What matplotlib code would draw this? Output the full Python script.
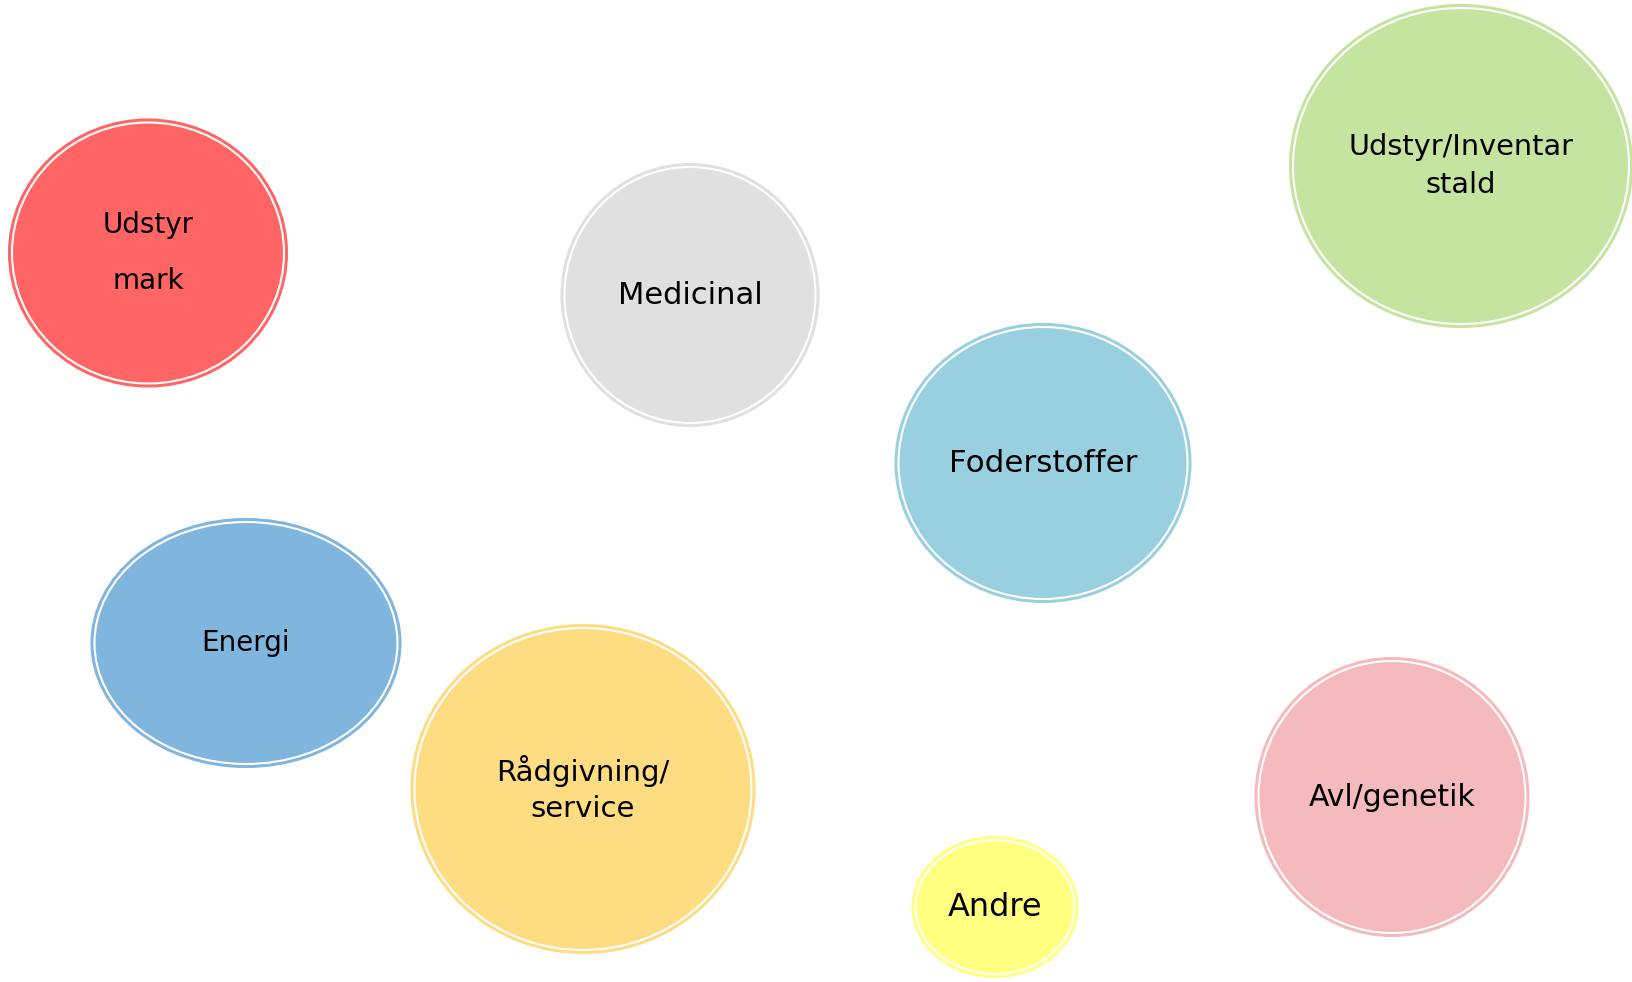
import matplotlib.pyplot as plt
from matplotlib.patches import Ellipse

# bubble data (pixel space of the 1633x982 canvas)
labels = ["Udstyr\nmark", "Medicinal", "Udstyr/Inventar\nstald", "Foderstoffer",
          "Energi", "Rådgivning/\nservice", "Andre", "Avl/genetik"]
cx = [148, 690, 1461, 1043, 246, 583, 995, 1392]
cy = [253, 295, 166, 463, 643, 789, 907, 797]
widths = [278, 257, 342, 295, 309, 343, 165, 273]
heights = [267, 262, 322, 278, 248, 328, 140, 278]
colors = ["#FF6565", "#E0E0E0", "#C5E4A0", "#98D0DF", "#80B6DE", "#FDDC82", "#FFFF80", "#F4BABE"]
font_sizes = [20, 22, 20.7, 22.3, 20, 21, 23, 21.5]
line_sp = [2.25, 1.2, 1.45, 1.2, 1.2, 1.4, 1.2, 1.2]

fig = plt.figure(figsize=(16.33, 9.82), dpi=100)
ax = fig.add_axes([0, 0, 1, 1])
ax.set_xlim(0, 1633)
ax.set_ylim(982, 0)
ax.axis('off')

for i in range(len(labels)):
    # outer colored ellipse
    ax.add_patch(Ellipse((cx[i], cy[i]), widths[i], heights[i],
                         facecolor=colors[i], edgecolor=colors[i], lw=1.5))
    # thin white ring just inside the edge
    ax.add_patch(Ellipse((cx[i], cy[i]), widths[i] - 6, heights[i] - 6,
                         facecolor='none', edgecolor='white', lw=1.5))
    ax.text(cx[i], cy[i], labels[i], ha='center', va='center',
            fontsize=font_sizes[i], linespacing=line_sp[i], color='black',
            family='DejaVu Sans')

fig.savefig("out.png", dpi=100)
